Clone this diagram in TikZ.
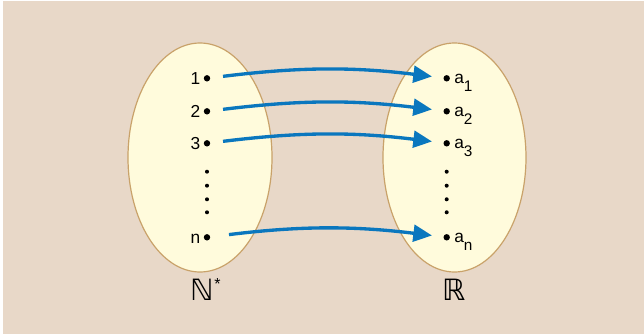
\documentclass[tikz,border=0pt]{standalone}
\usepackage{fontspec}
\setmainfont{Liberation Sans}
\newfontfamily\symfont{DejaVu Sans}
\usetikzlibrary{arrows.meta}
\definecolor{bgtan}{HTML}{E8D8C8}
\definecolor{setfill}{HTML}{FFFBDC}
\definecolor{setline}{HTML}{C9A26A}
\definecolor{arrowblue}{HTML}{0A77BE}
\newcommand{\sublab}[2]{#1\raisebox{-6pt}{\fontsize{11.5}{11.5}\selectfont #2}}
\begin{document}
\begin{tikzpicture}[x=0.75pt,y=-0.75pt,
  setshape/.style={draw=setline, fill=setfill, line width=0.9pt},
  bigdot/.style={circle, fill=black, inner sep=0pt, minimum size=4.8pt},
  smalldot/.style={circle, fill=black, inner sep=0pt, minimum size=3pt},
  lab/.style={font=\fontsize{13}{15}\selectfont, inner sep=0pt},
  setname/.style={font=\symfont\fontsize{22}{24}\selectfont, inner sep=0pt},
  maparrow/.style={draw=arrowblue, line width=2.5pt,
    -{Triangle[length=14pt,width=12.5pt]}, shorten <=9.5pt, shorten >=8.5pt}]
\fill[white] (0,0) rectangle (644,336);
\fill[bgtan] (3,1) rectangle (644,334);
\useasboundingbox (0,0) rectangle (644,336);
% sets
\draw[setshape] (200,157.5) ellipse [x radius=72, y radius=114.5];
\draw[setshape] (454.5,157.5) ellipse [x radius=71.5, y radius=114.5];
% left dots
\node[bigdot] (l1) at (207,78.3) {};
\node[bigdot] (l2) at (207,111.3) {};
\node[bigdot] (l3) at (207,143.3) {};
\node[smalldot] (ld1) at (207,171.7) {};
\node[smalldot] (ld2) at (207,185.7) {};
\node[smalldot] (ld3) at (207,199.3) {};
\node[smalldot] (ld4) at (207,212.3) {};
\node[bigdot] (ln) at (207,237.3) {};
\node[lab, anchor=base east] (tl1) at (200.5,84.5) {1};
\node[lab, anchor=base east] (tl2) at (200.5,117.5) {2};
\node[lab, anchor=base east] (tl3) at (200.5,149.5) {3};
\node[lab, anchor=base east] (tln) at (200.5,243) {n};
% right dots
\node[bigdot] (r1) at (446.7,78.3) {};
\node[bigdot] (r2) at (446.7,111.3) {};
\node[bigdot] (r3) at (446.7,143.3) {};
\node[smalldot] (rd1) at (446.7,171.7) {};
\node[smalldot] (rd2) at (446.7,185.7) {};
\node[smalldot] (rd3) at (446.7,199.3) {};
\node[smalldot] (rd4) at (446.7,212.3) {};
\node[bigdot] (rn) at (446.7,237.3) {};
\node[lab, anchor=base west] (tr1) at (454,83) {\sublab{a}{1}};
\node[lab, anchor=base west] (tr2) at (454,116) {\sublab{a}{2}};
\node[lab, anchor=base west] (tr3) at (454,148) {\sublab{a}{3}};
\node[lab, anchor=base west] (trn) at (454,242) {\sublab{a}{n}};
% set names
\node[setname, anchor=base west] (nstar) at (190.5,300) {ℕ\raisebox{8pt}{\fontsize{12}{12}\selectfont\rmfamily *}};
\node[setname, anchor=base] (rset) at (454,300) {ℝ};
% arrows
\draw[maparrow] (l1) to[bend left=7] (r1);
\draw[maparrow] (l2) to[bend left=7] (r2);
\draw[maparrow] (l3) to[bend left=7] (r3);
\draw[maparrow, shorten <=14pt] (ln) to[bend left=7] (rn);
\end{tikzpicture}
\end{document}
